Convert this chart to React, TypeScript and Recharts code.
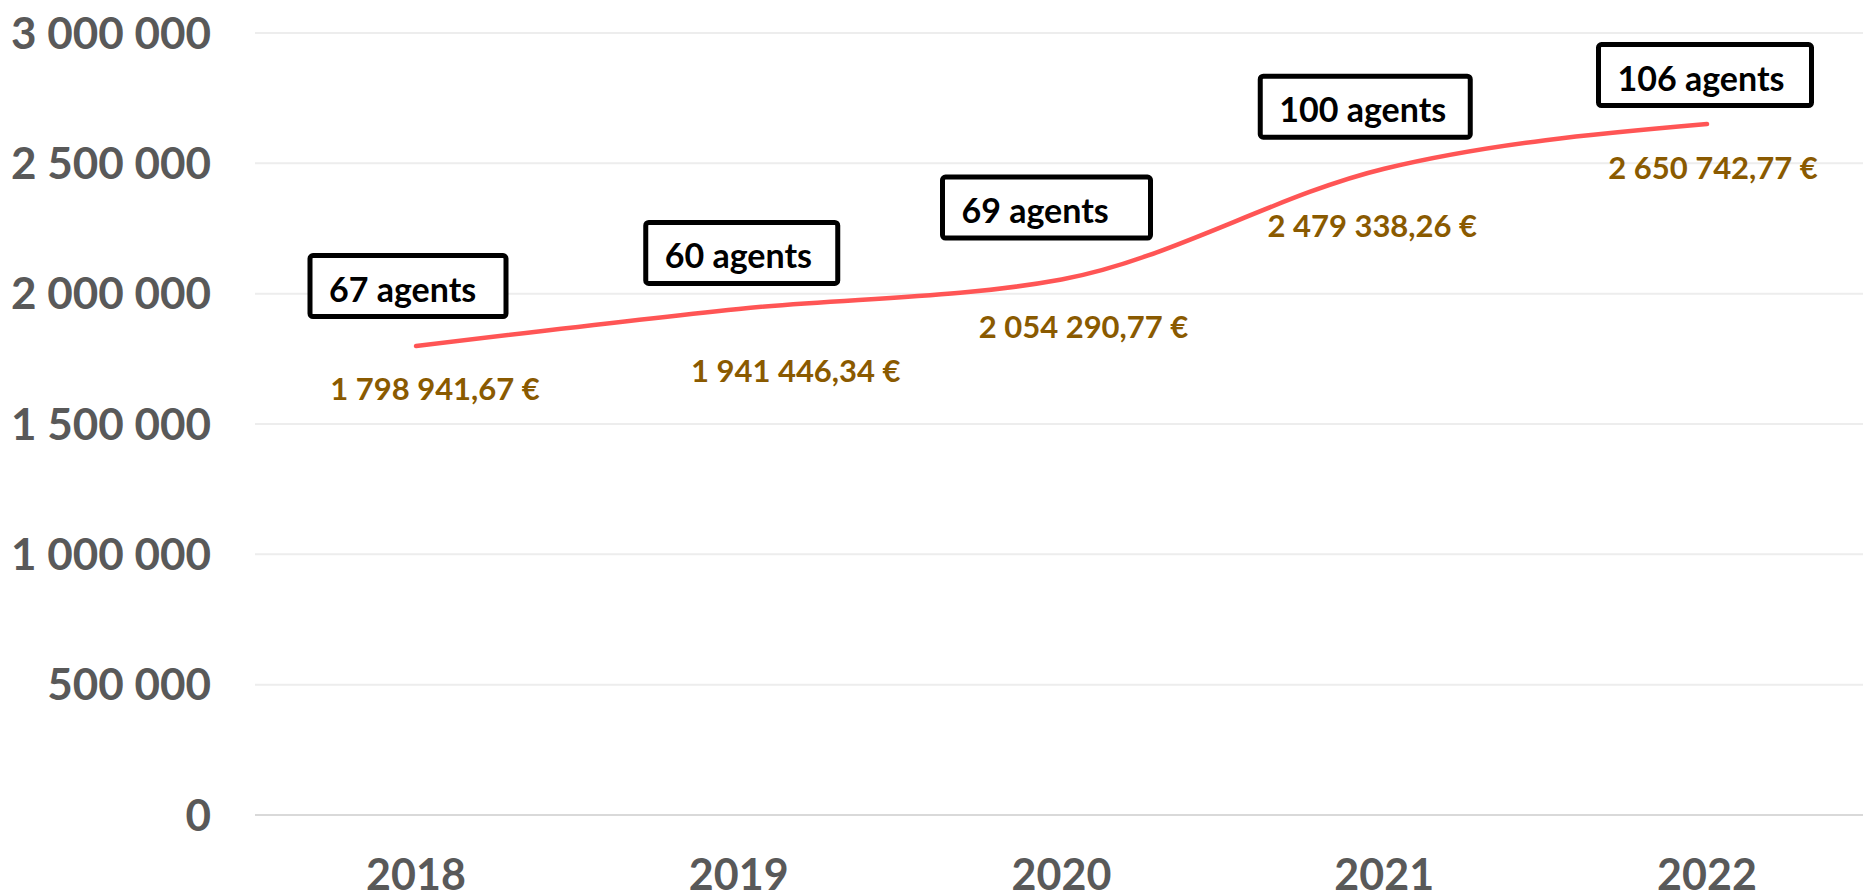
import React from "react";
import {
  LineChart,
  Line,
  XAxis,
  YAxis,
  CartesianGrid,
  LabelList,
} from "recharts";

const years = ["2018", "2019", "2020", "2021", "2022"];
const budget = [1798941.67, 1941446.34, 2054290.77, 2479338.26, 2650742.77];
const agents = [67, 60, 69, 100, 106];
const yTicks = [0, 500000, 1000000, 1500000, 2000000, 2500000, 3000000];

// hand-placed annotations (offsets from the point, like the original sheet)
const amountNudge = [
  [19, 42],
  [57, 61],
  [22, 46],
  [-12, 56],
  [6, 43],
];
const boxNudge = [
  { dx: -8, dy: -60, w: 196 },
  { dx: 3, dy: -56, w: 192 },
  { dx: -15, dy: -72, w: 208 },
  { dx: -19, dy: -62, w: 210 },
  { dx: -2, dy: -49, w: 213 },
];

const FONT = "Lato, 'Open Sans', sans-serif";

const groupSpaces = (s: string) => s.replace(/\B(?=(\d{3})+(?!\d))/g, " ");
const fmtTick = (v: number) => groupSpaces(String(v));
const fmtEuro = (v: number) => {
  const [i, d] = v.toFixed(2).split(".");
  return `${groupSpaces(i)},${d} €`;
};

const data = years.map((year, i) => ({
  year,
  budget: budget[i],
  agents: agents[i],
}));

const pos = (props: any) => ({
  px: props.x ?? props.viewBox?.x ?? 0,
  py: props.y ?? props.viewBox?.y ?? 0,
});

const AmountLabel = (props: any) => {
  const { px, py } = pos(props);
  const i = props.index ?? 0;
  const [dx, dy] = amountNudge[i];
  return (
    <text
      x={px + dx}
      y={py + dy}
      textAnchor="middle"
      dominantBaseline="central"
      fill="#8A5A00"
      fontSize={31}
      fontWeight={700}
      fontFamily={FONT}
    >
      {fmtEuro(Number(props.value))}
    </text>
  );
};

const AgentBox = (props: any) => {
  const { px, py } = pos(props);
  const i = props.index ?? 0;
  const b = boxNudge[i];
  const h = 61;
  const left = px + b.dx - b.w / 2;
  const top = py + b.dy - h / 2;
  return (
    <g>
      <rect
        x={left}
        y={top}
        width={b.w}
        height={h}
        rx={3}
        fill="#ffffff"
        stroke="#000000"
        strokeWidth={5}
      />
      <text
        x={left + 19}
        y={top + h / 2 + 2}
        dominantBaseline="central"
        fill="#000000"
        fontSize={34}
        fontWeight={700}
        fontFamily={FONT}
      >
        {props.value} agents
      </text>
    </g>
  );
};

export default function App() {
  return (
    <div
      style={{
        position: "absolute",
        left: 0,
        top: 0,
        width: 1863,
        height: 896,
        overflow: "hidden",
        background: "#ffffff",
      }}
    >
      <LineChart
        width={1868}
        height={896}
        data={data}
        margin={{ top: 33, right: 0, bottom: 0, left: 0 }}
      >
        <CartesianGrid vertical={false} stroke="#EDEDED" strokeWidth={2} />
        <XAxis
          dataKey="year"
          padding={{ left: 161, right: 161 }}
          axisLine={{ stroke: "#D9D9D9", strokeWidth: 2 }}
          tickLine={false}
          tickSize={0}
          tickMargin={44}
          height={81}
          tick={{ fill: "#595959", fontSize: 43, fontWeight: 700, fontFamily: FONT }}
        />
        <YAxis
          domain={[0, 3000000]}
          ticks={yTicks}
          interval={0}
          tickFormatter={fmtTick}
          axisLine={false}
          tickLine={false}
          tickSize={0}
          tickMargin={44}
          width={255}
          tick={{ fill: "#595959", fontSize: 44, fontWeight: 700, fontFamily: FONT }}
        />
        <Line
          type="monotone"
          dataKey="budget"
          stroke="#FF5555"
          strokeWidth={4.5}
          strokeLinecap="round"
          dot={false}
          activeDot={false}
          isAnimationActive={false}
        >
          <LabelList dataKey="budget" content={AmountLabel} />
          <LabelList dataKey="agents" content={AgentBox} />
        </Line>
      </LineChart>
    </div>
  );
}
